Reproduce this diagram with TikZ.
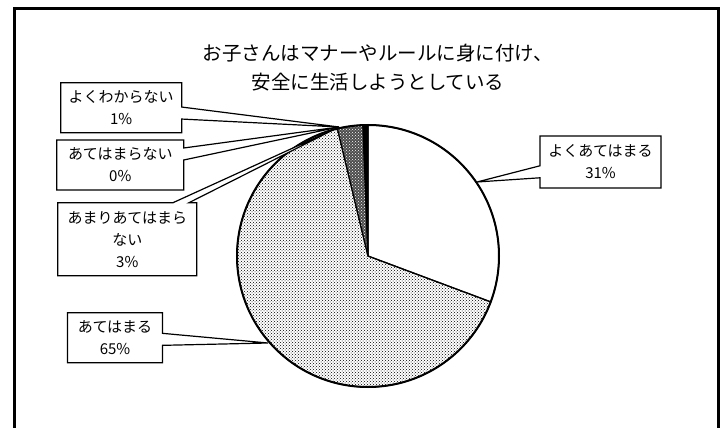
\documentclass[tikz,border=0pt]{standalone}
\usepackage{fontspec}
\setmainfont{Noto Sans CJK JP}
\usetikzlibrary{shapes.callouts,patterns}

\begin{document}
\begin{tikzpicture}[x=1pt,y=1pt,
    lbl/.style={rectangle callout,draw,fill=white,line width=1.2pt,align=center,inner sep=0pt,
      callout pointer width=12pt,font=\fontsize{15}{22}\selectfont},
    slice/.style={draw,line width=1.2pt,line join=round}]
    \useasboundingbox (-368,-172) rectangle (355,256);
    % frame, open at the bottom
    \draw[line width=2.2pt] (-353.5,-190) |- (350.5,247.5) -- (350.5,-190);
    \node[align=center,font=\fontsize{19.5}{29}\selectfont] (title) at (10,188.5) {お子さんはマナーやルールに身に付け、\\安全に生活しようとしている};
    % pie
    \filldraw[slice,fill=white] (0,0) -- (90:131) arc[start angle=90,end angle=-20.5,radius=131] -- cycle;
    \draw[slice,pattern=crosshatch dots] (0,0) -- (-20.5:131) arc[start angle=-20.5,end angle=-256.5,radius=131] -- cycle;
    \draw[slice,preaction={fill=black!70},pattern=crosshatch dots,pattern color=white] (0,0) -- (-256.5:131) arc[start angle=-256.5,end angle=-267.8,radius=131] -- cycle;
    \filldraw[slice,fill=black] (0,0) -- (-267.8:131) arc[start angle=-267.8,end angle=-270,radius=131] -- cycle;
    \draw[line width=2pt] (0,0) circle (131);
    \coordinate (tipvg) at (109,74);
    \coordinate (tipg) at (-100,-87);
    \coordinate (tiptop) at (-29,129);
    % labels
    \node[lbl,minimum width=121pt,minimum height=52pt,callout absolute pointer={(tipvg)}] (vgood) at (232.5,94) {よくあてはまる\\31\%};
    \node[lbl,minimum width=121pt,minimum height=50pt,callout absolute pointer={(tiptop)}] (unknown) at (-246.8,148.3) {よくわからない\\1\%};
    \node[lbl,minimum width=127pt,minimum height=50pt,callout absolute pointer={(tiptop)}] (notat) at (-247.7,91) {あてはまらない\\0\%};
    \node[lbl,minimum width=139pt,minimum height=73pt,callout pointer width=16pt,callout absolute pointer={(tiptop)}] (rarely) at (-240.7,16.7) {あまりあてはまら\\ない\\3\%};
    \node[lbl,minimum width=95pt,minimum height=50pt,callout absolute pointer={(tipg)}] (good) at (-253,-81.7) {あてはまる\\65\%};
\end{tikzpicture}
\end{document}
